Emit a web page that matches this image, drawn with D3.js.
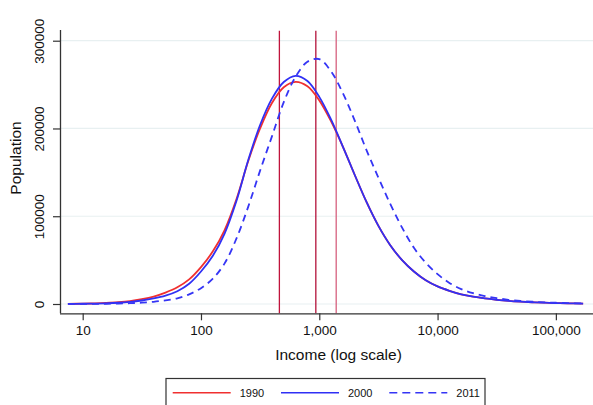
<!DOCTYPE html>
<html>
<head>
<meta charset="utf-8">
<script src="https://cdn.jsdelivr.net/npm/d3@7"></script>
<style>
  body { margin: 0; background: #fff; }
  svg { display: block; font-family: "Liberation Sans", Arial, sans-serif; }
</style>
</head>
<body>
<svg width="593" height="405"></svg>
<script>
// income grid (log steps)
const income = [7.5, 10, 12.6, 15.8, 20, 25.1, 31.6, 39.8, 50.1, 63.1, 79.4,
    100, 126, 158, 200, 251, 316, 398, 501, 631, 794,
    1000, 1259, 1585, 1995, 2512, 3162, 3981, 5012, 6310, 7943,
    10000, 12589, 15849, 19953, 25119, 31623, 39811, 50119, 63096, 79433,
    100000, 125893, 170000];

// population in thousands
const pop1990 = [0.2, 0.4, 0.7, 1.2, 2.0, 3.3, 5.5, 8.5, 13, 19, 28,
    42, 60, 84, 120, 163, 200, 229, 247, 253, 248,
    232, 208, 179, 147, 116, 89, 67, 50, 37, 27,
    20, 15, 11, 8.3, 6.3, 4.8, 3.6, 2.7, 2.0, 1.5,
    1.1, 0.8, 0.5];
const pop2000 = [0.1, 0.3, 0.5, 0.8, 1.4, 2.4, 4.0, 6.3, 9.5, 14.5, 23,
    37, 55, 80, 118, 164, 204, 234, 253, 260, 254,
    236, 210, 179, 147, 116, 89, 67, 50, 37, 27,
    20, 15, 11, 8.3, 6.3, 4.8, 3.6, 2.7, 2.0, 1.5,
    1.1, 0.8, 0.5];
const pop2011 = [0.1, 0.1, 0.2, 0.3, 0.5, 0.9, 1.5, 2.5, 4.2, 6.5, 11,
    18, 29, 46, 75, 111, 152, 191, 230, 259, 276,
    279, 265, 240, 209, 175, 144, 114, 87, 64, 47,
    34, 24, 17, 12.3, 9, 6.6, 4.8, 3.5, 2.6, 1.9,
    1.4, 1.0, 0.6];

const markers = [460, 935, 1390];
const markerColors = ['#c0143c', '#b3123a', '#d6607e'];

const xTicks = [10, 100, 1000, 10000, 100000];
const yTicks = [0, 100000, 200000, 300000];

const series = [
    {name: '1990', values: pop1990, color: '#f03030', dash: null},
    {name: '2000', values: pop2000, color: '#3030f5', dash: null},
    {name: '2011', values: pop2011, color: '#3535f5', dash: '7,5'}
];

const svg = d3.select('svg');
const plotLeft = 60, plotRight = 593, plotTop = 30, plotBottom = 313.3;

const x = d3.scaleLog()
    .domain([6.43, 206000])
    .range([plotLeft, plotRight]);

const y = d3.scaleLinear()
    .domain([-10600, 312200])
    .range([plotBottom, plotTop]);

// gridlines
svg.append('g')
    .selectAll('line')
    .data(yTicks)
    .enter()
    .append('line')
    .attr('x1', plotLeft)
    .attr('x2', plotRight)
    .attr('y1', d => y(d))
    .attr('y2', d => y(d))
    .attr('stroke', '#e8f0f1')
    .attr('stroke-width', 1.2);

// vertical marker lines
svg.append('g')
    .selectAll('line')
    .data(markers)
    .enter()
    .append('line')
    .attr('x1', d => x(d))
    .attr('x2', d => x(d))
    .attr('y1', plotTop + 0.7)
    .attr('y2', plotBottom)
    .attr('stroke', (d, i) => markerColors[i])
    .attr('stroke-width', 1.3);

// curves
const line = d3.line()
    .x((d, i) => x(income[i]))
    .y(d => y(d * 1000))
    .curve(d3.curveCatmullRom);

svg.append('g')
    .selectAll('path')
    .data(series)
    .enter()
    .append('path')
    .attr('d', s => line(s.values))
    .attr('fill', 'none')
    .attr('stroke', s => s.color)
    .attr('stroke-width', 1.8)
    .attr('stroke-dasharray', s => s.dash);

// axes
const xAxis = svg.append('g')
    .attr('transform', `translate(0,${plotBottom})`)
    .call(d3.axisBottom(x).tickValues(xTicks).tickFormat(d3.format(',')).tickSize(7).tickSizeOuter(0));

const yAxis = svg.append('g')
    .attr('transform', `translate(${plotLeft},0)`)
    .call(d3.axisLeft(y).tickValues(yTicks).tickFormat(d => d).tickSize(7).tickSizeOuter(0));

[xAxis, yAxis].forEach(a => {
    a.select('.domain').attr('stroke', '#333').attr('stroke-width', 1.3);
    a.selectAll('.tick line').attr('stroke', '#333').attr('stroke-width', 1.2);
    a.selectAll('text').attr('fill', '#111').style('font-size', '13.5px')
        .style('font-family', '"Liberation Sans", Arial, sans-serif');
});
xAxis.select('.domain').attr('d', `M${plotLeft},0.5H${plotRight}`);
yAxis.select('.domain').attr('d', `M0.5,${plotBottom}V${plotTop}`);

xAxis.selectAll('text').attr('y', 12);
yAxis.selectAll('.tick text')
    .attr('x', 0)
    .attr('y', 0)
    .attr('dy', 0)
    .attr('text-anchor', 'middle')
    .attr('transform', 'translate(-16,0) rotate(-90)');

// axis titles
svg.append('text')
    .attr('x', (plotLeft + plotRight) / 2 + 12)
    .attr('y', 360)
    .attr('text-anchor', 'middle')
    .style('font-size', '15.5px')
    .attr('fill', '#111')
    .text('Income (log scale)');

svg.append('text')
    .attr('transform', 'translate(21,158) rotate(-90)')
    .attr('text-anchor', 'middle')
    .style('font-size', '15.5px')
    .attr('fill', '#111')
    .text('Population');

// legend
const legend = svg.append('g');
legend.append('rect')
    .attr('x', 166)
    .attr('y', 378.5)
    .attr('width', 319)
    .attr('height', 40)
    .attr('fill', '#fff')
    .attr('stroke', '#333')
    .attr('stroke-width', 1.2);

const item = legend.selectAll('g.item')
    .data(series)
    .enter()
    .append('g')
    .attr('class', 'item')
    .attr('transform', (d, i) => `translate(${172.7 + i * 108.3},392.7)`);

item.append('line')
    .attr('x1', 0)
    .attr('x2', 58)
    .attr('stroke', d => d.color)
    .attr('stroke-width', 1.4)
    .attr('stroke-dasharray', d => d.dash ? '8,5' : null);

item.append('text')
    .attr('x', 67)
    .attr('y', 4)
    .style('font-size', '11px')
    .attr('fill', '#111')
    .text(d => d.name);
</script>
</body>
</html>
